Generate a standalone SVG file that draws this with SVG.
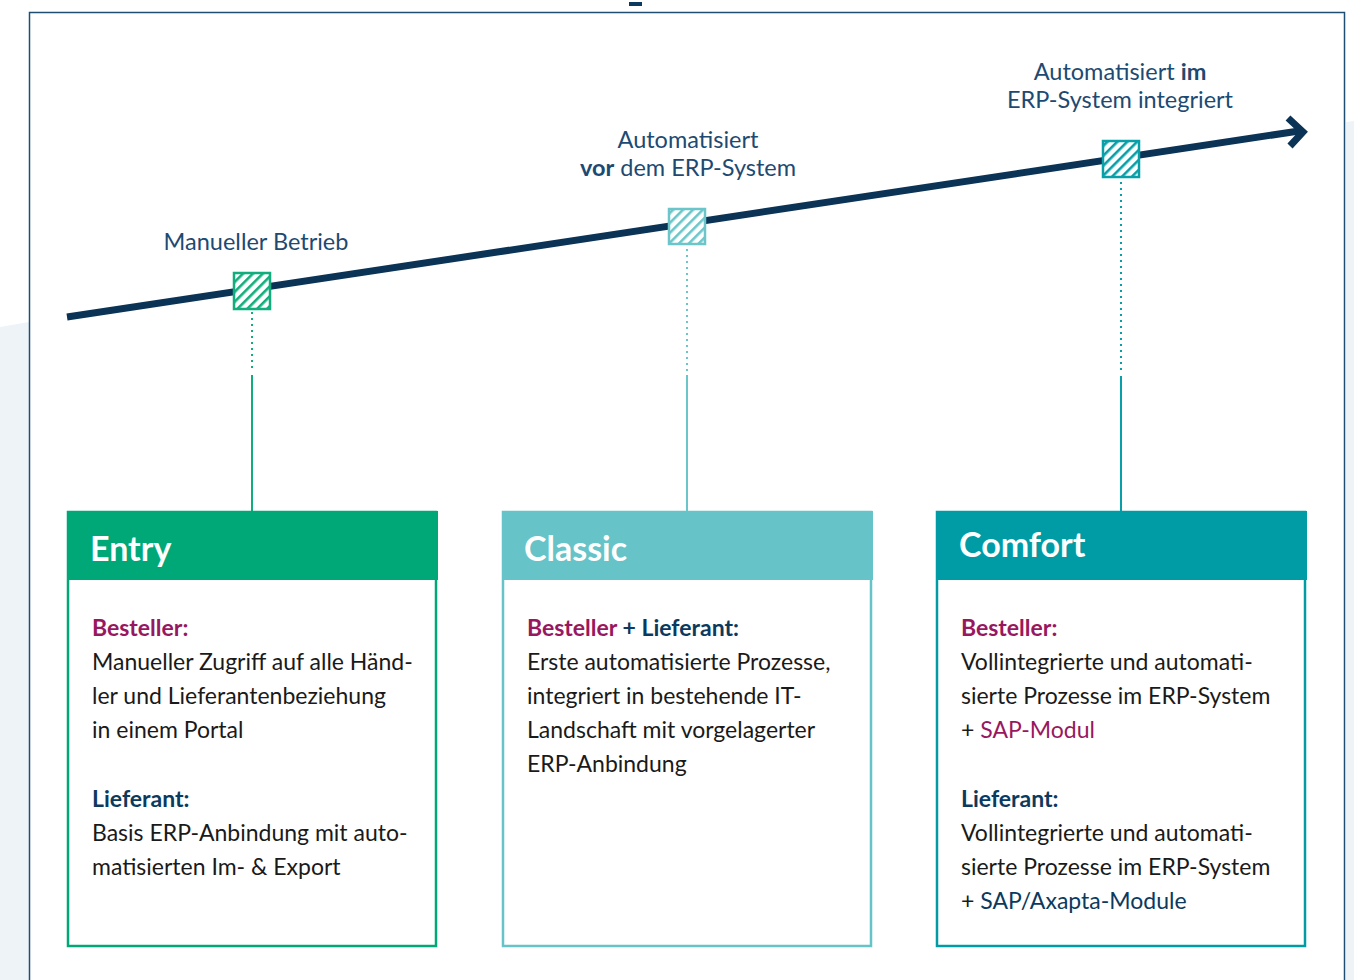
<svg xmlns="http://www.w3.org/2000/svg" width="1354" height="980" viewBox="0 0 1354 980">
<defs>
<style>
text{font-family:Lato,"Liberation Sans",sans-serif}
.lbl{font-size:23.5px;fill:#1d4a72;text-anchor:middle}
.body{font-size:23px;fill:#1a1a1a}
.b{font-weight:bold}
.mag{fill:#98185f}
.nav{fill:#0b3a5e}
.title{font-size:34px;font-weight:bold;fill:#ffffff}
</style>
<pattern id="hg" width="7" height="7" patternUnits="userSpaceOnUse" patternTransform="rotate(45)"><rect width="7" height="7" fill="#fff"/><rect width="2.6" height="7" fill="#12ad7c"/></pattern>
<pattern id="hc" width="7" height="7" patternUnits="userSpaceOnUse" patternTransform="rotate(45)"><rect width="7" height="7" fill="#fff"/><rect width="2.6" height="7" fill="#6cc6c9"/></pattern>
<pattern id="ht" width="7" height="7" patternUnits="userSpaceOnUse" patternTransform="rotate(45)"><rect width="7" height="7" fill="#fff"/><rect width="2.6" height="7" fill="#08a0a8"/></pattern>
</defs>
<rect width="1354" height="980" fill="#ffffff"/>
<polygon points="0,327 29,322 29,980 0,980" fill="#eef3f7"/>
<polygon points="1346,122 1354,121 1354,980 1346,980" fill="#eef3f7"/>
<rect x="29.5" y="12.5" width="1315" height="980" fill="none" stroke="#1f4e74" stroke-width="1.5"/>
<rect x="629" y="2" width="13" height="4" fill="#0b3a5e"/>
<g id="timeline">
<line x1="67" y1="317" x2="1299" y2="131" stroke="#0a3356" stroke-width="7"/>
<polyline points="1288,118 1303,132 1290,146" fill="none" stroke="#0a3356" stroke-width="7"/>
</g>
<g id="connectors">
<line x1="252" y1="312" x2="252" y2="372" stroke="#12ad7c" stroke-width="2" stroke-dasharray="2,4"/>
<line x1="252" y1="375" x2="252" y2="512" stroke="#12ad7c" stroke-width="2"/>
<line x1="687" y1="249" x2="687" y2="372" stroke="#6cc6c9" stroke-width="2" stroke-dasharray="2,4"/>
<line x1="687" y1="375" x2="687" y2="512" stroke="#6cc6c9" stroke-width="2"/>
<line x1="1121" y1="182" x2="1121" y2="372" stroke="#08a0a8" stroke-width="2" stroke-dasharray="2,4"/>
<line x1="1121" y1="376" x2="1121" y2="512" stroke="#08a0a8" stroke-width="2"/>
</g>
<g id="m-entry"><rect x="234" y="273" width="36" height="36" fill="url(#hg)" stroke="#12ad7c" stroke-width="2.5"/><text class="lbl" x="256" y="250">Manueller Betrieb</text></g>
<g id="m-classic"><rect x="669" y="209" width="36" height="35" fill="url(#hc)" stroke="#6cc6c9" stroke-width="2.5"/><text class="lbl" x="688" y="148">Automatisiert</text><text class="lbl" x="688" y="176"><tspan class="b">vor</tspan> dem ERP-System</text></g>
<g id="m-comfort"><rect x="1103" y="141" width="36" height="36" fill="url(#ht)" stroke="#08a0a8" stroke-width="2.5"/><text class="lbl" x="1120" y="80">Automatisiert <tspan class="b">im</tspan></text><text class="lbl" x="1120" y="108">ERP-System integriert</text></g>
<g id="entry">
<rect x="68" y="512" width="368" height="434" fill="#fff" stroke="#00a878" stroke-width="2.5"/>
<rect x="67" y="511" width="371" height="69" fill="#00a878"/>
<text class="title" x="90" y="561">Entry</text>
<text class="body" x="92"><tspan x="92" y="636" class="b mag">Besteller:</tspan><tspan x="92" y="670">Manueller Zugriff auf alle Händ-</tspan><tspan x="92" y="704">ler und Lieferantenbeziehung</tspan><tspan x="92" y="738">in einem Portal</tspan><tspan x="92" y="807" class="b nav">Lieferant:</tspan><tspan x="92" y="841">Basis ERP-Anbindung mit auto-</tspan><tspan x="92" y="875">matisierten Im- &amp; Export</tspan></text>
</g>
<g id="classic">
<rect x="503" y="512" width="368" height="434" fill="#fff" stroke="#66c3c7" stroke-width="2.5"/>
<rect x="502" y="511" width="371" height="69" fill="#66c3c7"/>
<text class="title" x="524" y="561">Classic</text>
<text class="body" x="527"><tspan x="527" y="636" class="b"><tspan class="mag">Besteller</tspan><tspan class="nav"> + Lieferant:</tspan></tspan><tspan x="527" y="670">Erste automatisierte Prozesse,</tspan><tspan x="527" y="704">integriert in bestehende IT-</tspan><tspan x="527" y="738">Landschaft mit vorgelagerter</tspan><tspan x="527" y="772">ERP-Anbindung</tspan></text>
</g>
<g id="comfort">
<rect x="937" y="512" width="368" height="434" fill="#fff" stroke="#009ca6" stroke-width="2.5"/>
<rect x="936" y="511" width="371" height="69" fill="#009ca6"/>
<text class="title" x="959" y="557">Comfort</text>
<text class="body" x="961"><tspan x="961" y="636" class="b mag">Besteller:</tspan><tspan x="961" y="670">Vollintegrierte und automati-</tspan><tspan x="961" y="704">sierte Prozesse im ERP-System</tspan><tspan x="961" y="738">+ <tspan class="mag">SAP-Modul</tspan></tspan><tspan x="961" y="807" class="b nav">Lieferant:</tspan><tspan x="961" y="841">Vollintegrierte und automati-</tspan><tspan x="961" y="875">sierte Prozesse im ERP-System</tspan><tspan x="961" y="909">+ <tspan class="nav">SAP/Axapta-Module</tspan></tspan></text>
</g>
</svg>
